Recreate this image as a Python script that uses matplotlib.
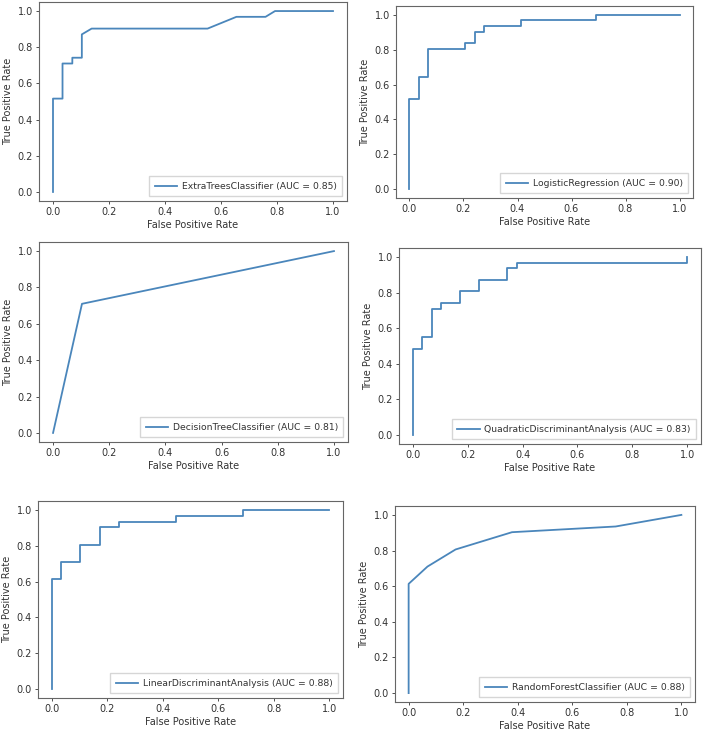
import matplotlib
matplotlib.use('Agg')
import matplotlib.pyplot as plt

# ROC curves
etFpr = [0, 0, 0.034, 0.034, 0.069, 0.069, 0.103, 0.103, 0.138, 0.552, 0.655, 0.759, 0.793, 1.0]
etTpr = [0, 0.516, 0.516, 0.710, 0.710, 0.742, 0.742, 0.871, 0.903, 0.903, 0.968, 0.968, 1.0, 1.0]

lrFpr = [0, 0, 0.034, 0.034, 0.069, 0.069, 0.207, 0.207, 0.241, 0.241, 0.276, 0.276, 0.414, 0.414, 0.690, 0.690, 1.0]
lrTpr = [0, 0.516, 0.516, 0.645, 0.645, 0.806, 0.806, 0.839, 0.839, 0.903, 0.903, 0.935, 0.935, 0.968, 0.968, 1.0, 1.0]

dtFpr = [0, 0.103, 1.0]
dtTpr = [0, 0.710, 1.0]

qdaFpr = [0, 0, 0.034, 0.034, 0.069, 0.069, 0.103, 0.103, 0.172, 0.172, 0.241, 0.241, 0.345, 0.345, 0.379, 0.379, 1.0, 1.0]
qdaTpr = [0, 0.484, 0.484, 0.548, 0.548, 0.710, 0.710, 0.742, 0.742, 0.806, 0.806, 0.871, 0.871, 0.935, 0.935, 0.968, 0.968, 1.0]

ldaFpr = [0, 0, 0.034, 0.034, 0.103, 0.103, 0.172, 0.172, 0.241, 0.241, 0.448, 0.448, 0.690, 0.690, 1.0]
ldaTpr = [0, 0.613, 0.613, 0.710, 0.710, 0.806, 0.806, 0.903, 0.903, 0.935, 0.935, 0.968, 0.968, 1.0, 1.0]

rfFpr = [0, 0, 0.069, 0.172, 0.379, 0.759, 1.0]
rfTpr = [0, 0.613, 0.710, 0.806, 0.903, 0.935, 1.0]

names = ['ExtraTreesClassifier', 'LogisticRegression', 'DecisionTreeClassifier',
         'QuadraticDiscriminantAnalysis', 'LinearDiscriminantAnalysis', 'RandomForestClassifier']
aucs = [0.85, 0.90, 0.81, 0.83, 0.88, 0.88]
curves = [(etFpr, etTpr), (lrFpr, lrTpr), (dtFpr, dtTpr),
          (qdaFpr, qdaTpr), (ldaFpr, ldaTpr), (rfFpr, rfTpr)]

# panel boxes in pixels: left, top, right, bottom
boxes = [(39, 2, 347, 201), (396, 6, 693, 198),
         (39, 242, 348, 442), (399, 248, 701, 444),
         (38, 501, 343, 698), (395, 506, 695, 702)]

W, H = 708, 733
lineColor = '#4a86bb'
textColor = '#333333'

fig = plt.figure(figsize=(W / 100, H / 100), dpi=100)

for (fpr, tpr), name, auc, (l, t, r, b) in zip(curves, names, aucs, boxes):
    ax = fig.add_axes([l / W, 1 - b / H, (r - l) / W, (b - t) / H])
    ax.plot(fpr, tpr, color=lineColor, lw=1.3,
            label='{} (AUC = {:.2f})'.format(name, auc))
    ax.set_xlim(-0.05, 1.05)
    ax.set_ylim(-0.05, 1.05)
    ax.set_xticks([0, 0.2, 0.4, 0.6, 0.8, 1.0])
    ax.set_yticks([0, 0.2, 0.4, 0.6, 0.8, 1.0])
    ax.set_xlabel('False Positive Rate', fontsize=7, color=textColor, labelpad=2)
    ax.set_ylabel('True Positive Rate', fontsize=7, color=textColor, labelpad=3)
    ax.tick_params(labelsize=7, colors=textColor, length=2.5, width=0.6, pad=2)
    for s in ax.spines.values():
        s.set_color('#666666')
        s.set_linewidth(0.8)
    leg = ax.legend(loc='lower right', fontsize=6.7, handlelength=2.4, handletextpad=0.5,
                    borderpad=0.6, borderaxespad=0.5, fancybox=False, edgecolor='#cccccc')
    for txt in leg.get_texts():
        txt.set_color(textColor)

fig.savefig('out.png', dpi=100)
